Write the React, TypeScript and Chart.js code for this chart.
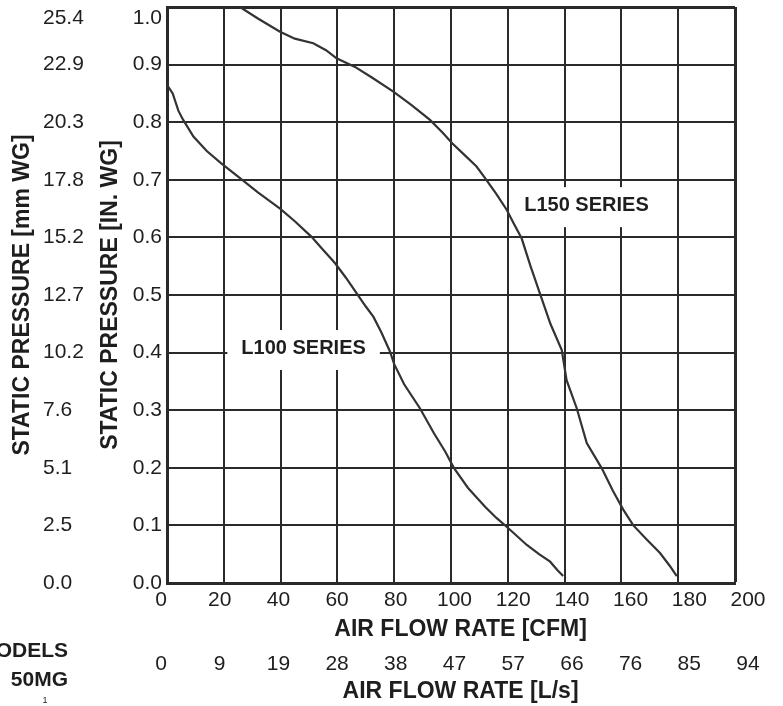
import React, { useEffect, useRef } from "react";
import { Chart, registerables } from "chart.js";

Chart.register(...registerables);

const FONT = '"Liberation Sans", Arial, Helvetica, sans-serif';
const INK = "#1e1e1e";
const GRID = "#2a2a2a";

// Axis tick values / labels
const cfmTickValues = [0, 20, 40, 60, 80, 100, 120, 140, 160, 180, 200];
const cfmLabels = ["0", "20", "40", "60", "80", "100", "120", "140", "160", "180", "200"];
const lsLabels = ["0", "9", "19", "28", "38", "47", "57", "66", "76", "85", "94"];
const inTickValues = [0, 0.1, 0.2, 0.3, 0.4, 0.5, 0.6, 0.7, 0.8, 0.9, 0.981];
const inLabels = ["0.0", "0.1", "0.2", "0.3", "0.4", "0.5", "0.6", "0.7", "0.8", "0.9", "1.0"];
const mmLabels = ["0.0", "2.5", "5.1", "7.6", "10.2", "12.7", "15.2", "17.8", "20.3", "22.9", "25.4"];

// L100 series: air flow [CFM] vs static pressure [in. WG]
const l100Cfm = [0, 2, 4, 5.7, 9.3, 14, 19, 25.7, 32, 39.8, 45, 50.9, 55, 59.2, 63, 66.8, 70, 72.7, 75.5, 78.5, 80, 83.5, 89.1, 94, 98, 101, 106, 112, 116, 120.2, 126.7, 131, 134.9, 137.5, 139.5];
const l100Press = [0.865, 0.85, 0.82, 0.804, 0.775, 0.75, 0.729, 0.703, 0.678, 0.65, 0.628, 0.601, 0.578, 0.555, 0.53, 0.503, 0.48, 0.462, 0.435, 0.402, 0.38, 0.345, 0.303, 0.26, 0.228, 0.2, 0.165, 0.1325, 0.113, 0.095, 0.066, 0.05, 0.037, 0.022, 0.012];

// L150 series
const l150Cfm = [25.7, 32, 39.8, 45, 51.5, 56, 59.7, 66.2, 72, 79.7, 86, 92.6, 97, 100.5, 105, 109, 112, 116, 119.6, 122, 124.9, 128, 131.3, 135, 139, 140.7, 144.3, 147.8, 153.1, 157, 160.7, 164.2, 169, 173.6, 177, 179.5];
const l150Press = [1.0, 0.98, 0.957, 0.945, 0.937, 0.925, 0.911, 0.896, 0.878, 0.853, 0.83, 0.804, 0.782, 0.763, 0.742, 0.723, 0.703, 0.675, 0.648, 0.625, 0.598, 0.55, 0.503, 0.45, 0.4045, 0.352, 0.303, 0.243, 0.199, 0.16, 0.127, 0.1, 0.075, 0.052, 0.03, 0.012];

// Series captions, anchored in data coordinates
const seriesCaptions = [
  { text: "L100 SERIES", cfm: 48.1, press: 0.408 },
  { text: "L150 SERIES", cfm: 147.7, press: 0.656 },
];

const toPoints = (xs: number[], ys: number[]) => xs.map((x, i) => ({ x, y: ys[i] }));

const captionPlugin = {
  id: "captions",
  beforeDatasetsDraw(chart: any) {
    const { ctx, scales } = chart;
    const x = scales.x;
    const y = scales.y;
    ctx.save();
    ctx.font = `bold 20px ${FONT}`;
    ctx.textAlign = "center";
    ctx.textBaseline = "middle";
    for (const c of seriesCaptions) {
      const px = x.getPixelForValue(c.cfm);
      const py = y.getPixelForValue(c.press);
      const w = ctx.measureText(c.text).width + 28;
      ctx.fillStyle = "#ffffff";
      ctx.fillRect(px - w / 2, py - 18, w, 40);
      ctx.fillStyle = INK;
      ctx.fillText(c.text, px, py);
    }
    ctx.restore();
  },
  afterDraw(chart: any) {
    const { ctx } = chart;
    ctx.save();
    ctx.fillStyle = INK;
    ctx.font = `bold 21px ${FONT}`;
    ctx.textAlign = "right";
    ctx.textBaseline = "middle";
    ctx.fillText("MODELS", 68, 651);
    ctx.fillText("50MG", 68, 680);
    ctx.font = `9px ${FONT}`;
    ctx.textAlign = "center";
    ctx.fillText("1", 45, 701);
    ctx.restore();
  },
};

export default function App() {
  const canvasRef = useRef<HTMLCanvasElement | null>(null);

  useEffect(() => {
    const canvas = canvasRef.current;
    if (!canvas) return;

    const tickFont = { family: FONT, size: 21 };
    const titleFont = { family: FONT, size: 23, weight: "bold" as const };

    const labelAxisFitX = (h: number) => (s: any) => {
      s.height = h;
      s.paddingLeft = 0;
      s.paddingRight = 0;
    };
    const labelAxisFitY = (w: number) => (s: any) => {
      s.width = w;
      s.paddingTop = 0;
      s.paddingBottom = 0;
    };
    const noGrid = { display: false, drawTicks: false };

    const chart = new Chart(canvas, {
      type: "line",
      data: {
        datasets: [
          {
            label: "L100 SERIES",
            data: toPoints(l100Cfm, l100Press),
            borderColor: "#333333",
            borderWidth: 2.2,
            pointRadius: 0,
            tension: 0,
            xAxisID: "x",
            yAxisID: "y",
          },
          {
            label: "L150 SERIES",
            data: toPoints(l150Cfm, l150Press),
            borderColor: "#333333",
            borderWidth: 2.2,
            pointRadius: 0,
            tension: 0,
            xAxisID: "x",
            yAxisID: "y",
          },
        ],
      },
      options: {
        animation: false,
        responsive: false,
        events: [],
        layout: { padding: { left: 0, top: 7, right: 48, bottom: 0 } },
        plugins: {
          legend: { display: false },
          tooltip: { enabled: false },
        },
        scales: {
          x: {
            type: "linear",
            position: "bottom",
            min: 0,
            max: 200,
            ticks: { display: false, stepSize: 20 },
            grid: {
              color: GRID,
              lineWidth: (c: any) => (c.tick && c.tick.value === 200 ? 3 : 2),
              drawTicks: false,
            },
            border: { display: true, color: GRID, width: 3 },
            afterFit: (s: any) => {
              s.height = 0;
            },
          },
          xCfm: {
            type: "linear",
            position: "bottom",
            min: 2.044,
            max: 195.57,
            grid: noGrid,
            border: { display: false },
            afterBuildTicks: (s: any) => {
              s.ticks = cfmTickValues.map((v) => ({ value: v }));
            },
            ticks: {
              autoSkip: false,
              maxRotation: 0,
              minRotation: 0,
              padding: 5,
              color: INK,
              font: tickFont,
              callback: (_v: any, i: number) => cfmLabels[i],
            },
            title: {
              display: true,
              text: "   AIR FLOW RATE [CFM]",
              color: INK,
              font: titleFont,
              padding: { top: 0, bottom: 0 },
            },
            afterFit: labelAxisFitX(60),
          },
          xLs: {
            type: "linear",
            position: "bottom",
            min: 2.044,
            max: 195.57,
            grid: noGrid,
            border: { display: false },
            afterBuildTicks: (s: any) => {
              s.ticks = cfmTickValues.map((v) => ({ value: v }));
            },
            ticks: {
              autoSkip: false,
              maxRotation: 0,
              minRotation: 0,
              padding: 9,
              color: INK,
              font: tickFont,
              callback: (_v: any, i: number) => lsLabels[i],
            },
            title: {
              display: true,
              text: "   AIR FLOW RATE [L/s]",
              color: INK,
              font: titleFont,
              padding: { top: 0, bottom: 1 },
            },
            afterFit: labelAxisFitX(63),
          },
          y: {
            type: "linear",
            position: "left",
            min: 0,
            max: 1,
            ticks: { display: false, stepSize: 0.1 },
            grid: {
              color: GRID,
              lineWidth: (c: any) => (c.tick && Math.abs(c.tick.value - 1) < 1e-6 ? 3 : 2),
              drawTicks: false,
            },
            border: { display: true, color: GRID, width: 3 },
            afterFit: (s: any) => {
              s.width = 0;
            },
          },
          yIn: {
            type: "linear",
            position: "left",
            min: 0,
            max: 1,
            grid: noGrid,
            border: { display: false },
            afterBuildTicks: (s: any) => {
              s.ticks = inTickValues.map((v) => ({ value: v }));
            },
            ticks: {
              autoSkip: false,
              padding: 5,
              color: INK,
              font: tickFont,
              callback: (_v: any, i: number) => inLabels[i],
            },
            title: {
              display: true,
              text: "STATIC PRESSURE [IN. WG]",
              color: INK,
              font: titleFont,
              padding: { top: 0, bottom: 0 },
            },
            afterFit: labelAxisFitY(70),
          },
          yMm: {
            type: "linear",
            position: "left",
            min: 0,
            max: 1,
            grid: noGrid,
            border: { display: false },
            afterBuildTicks: (s: any) => {
              s.ticks = inTickValues.map((v) => ({ value: v }));
            },
            ticks: {
              autoSkip: false,
              padding: 13,
              crossAlign: "far",
              color: INK,
              font: tickFont,
              callback: (_v: any, i: number) => mmLabels[i],
            },
            afterFit: labelAxisFitY(54),
          },
          yMmTitle: {
            type: "linear",
            position: "left",
            min: 0,
            max: 1,
            grid: noGrid,
            border: { display: false },
            ticks: { display: false },
            title: {
              display: true,
              text: "STATIC PRESSURE [mm WG]",
              color: INK,
              font: titleFont,
              padding: { top: 9, bottom: 0 },
            },
            afterFit: labelAxisFitY(43),
          },
        },
      } as any,
      plugins: [captionPlugin],
    });

    return () => chart.destroy();
  }, []);

  return (
    <div style={{ position: "absolute", left: 0, top: 0, width: 783, height: 706, background: "#fff" }}>
      <canvas ref={canvasRef} width={783} height={706} style={{ display: "block" }} />
    </div>
  );
}
